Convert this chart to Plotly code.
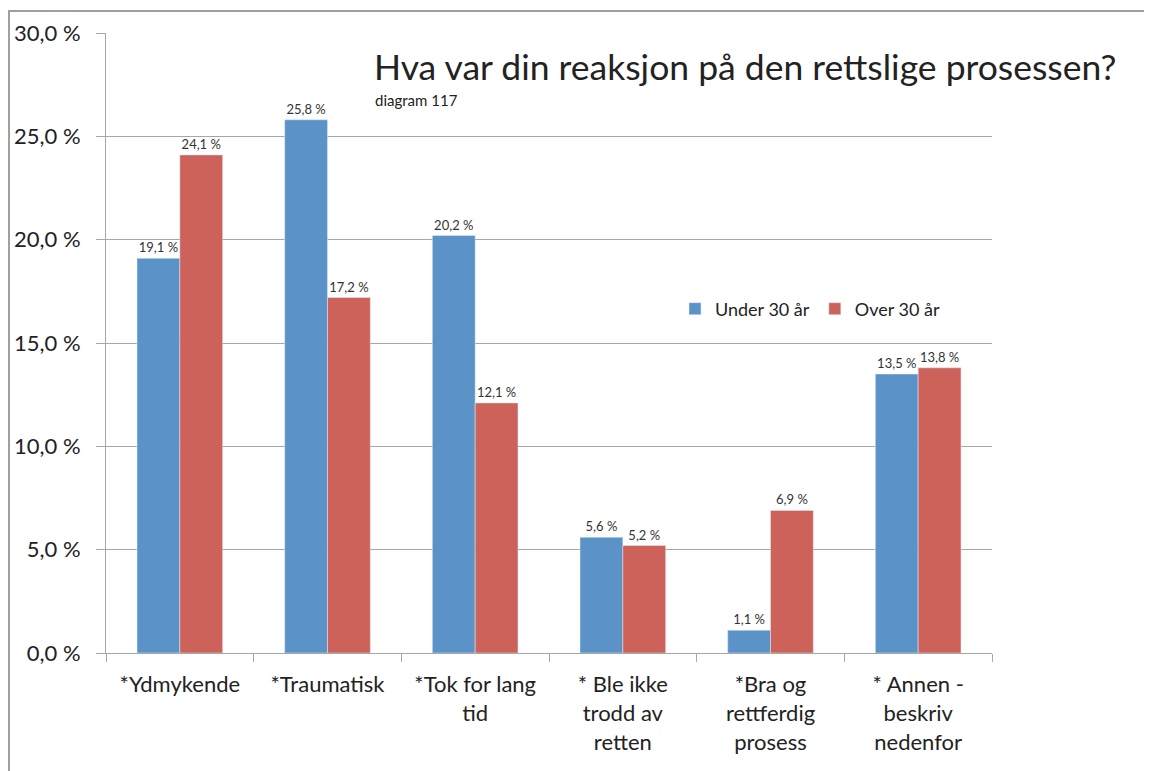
import plotly.graph_objects as go

# data
categories = ["*Ydmykende", "*Traumatisk", "*Tok for lang<br>tid",
              "* Ble ikke<br>trodd av<br>retten", "*Bra og<br>rettferdig<br>prosess",
              "* Annen -<br>beskriv<br>nedenfor"]
under_30 = [19.1, 25.8, 20.2, 5.6, 1.1, 13.5]
over_30 = [24.1, 17.2, 12.1, 5.2, 6.9, 13.8]
tick_vals = [0, 5, 10, 15, 20, 25, 30]
tick_text = ["0,0 %", "5,0 %", "10,0 %", "15,0 %", "20,0 %", "25,0 %", "30,0 %"]


def pct(v):
    return f"{v:.1f} %".replace(".", ",")


FONT = "Lato, 'Open Sans', sans-serif"
W, H = 1152, 771
OFF = 8  # page offset of the plot div
L, T = 98, 25
pw, ph = 886, 620
R, B = W - L - pw, H - T - ph


# positions below are given in screenshot pixels
def px_x(x):
    return (x - OFF - L) / pw


def px_y(y):
    return (T + ph + OFF - y) / ph


fig = go.Figure()
fig.add_trace(go.Bar(x=categories, y=under_30, name="Under 30 år",
                     marker_color="#5b92c7", text=[pct(v) for v in under_30],
                     textposition="outside", cliponaxis=False,
                     textfont=dict(size=13, color="#333333")))
fig.add_trace(go.Bar(x=categories, y=over_30, name="Over 30 år",
                     marker_color="#cc625a", text=[pct(v) for v in over_30],
                     textposition="outside", cliponaxis=False,
                     textfont=dict(size=13, color="#333333")))

fig.update_layout(
    width=W, height=H,
    margin=dict(l=L, r=R, t=T, b=B, autoexpand=False),
    paper_bgcolor="white", plot_bgcolor="white",
    font=dict(family=FONT, color="#222222"),
    barmode="group", bargap=0.42, bargroupgap=0,
    legend=dict(orientation="h", x=px_x(675), y=px_y(309), xanchor="left", yanchor="middle",
                font=dict(size=18), bgcolor="rgba(0,0,0,0)", itemwidth=30,
                traceorder="normal"),
)
fig.update_yaxes(range=[0, 30], tickvals=tick_vals, ticktext=tick_text,
                 showgrid=True, gridcolor="#a6a6a6", gridwidth=1,
                 showline=True, linecolor="#a6a6a6", linewidth=1,
                 ticks="outside", ticklen=9, tickcolor="#a6a6a6", ticklabelstandoff=11,
                 tickfont=dict(size=22, color="#222222"), zeroline=False, automargin=False)
fig.update_xaxes(showline=True, linecolor="#a6a6a6", linewidth=1,
                 ticks="outside", ticklen=8, tickcolor="#a6a6a6", tickson="boundaries",
                 ticklabelstandoff=12, automargin=False,
                 tickfont=dict(size=22, color="#222222"))

fig.add_annotation(xref="paper", yref="paper", x=px_x(372), y=px_y(67),
                   text="Hva var din reaksjon på den rettslige prosessen?",
                   showarrow=False, xanchor="left", yanchor="middle",
                   font=dict(size=35.5, color="#222222"))
fig.add_annotation(xref="paper", yref="paper", x=px_x(373), y=px_y(100),
                   text="diagram 117", showarrow=False, xanchor="left", yanchor="middle",
                   font=dict(size=15, color="#222222"))

# outer frame lines of the original screenshot
fig.add_shape(type="line", xref="paper", yref="paper",
              x0=px_x(8), x1=px_x(1160), y0=px_y(11), y1=px_y(11),
              line=dict(color="#a0a0a0", width=2))
fig.add_shape(type="line", xref="paper", yref="paper",
              x0=px_x(9), x1=px_x(9), y0=px_y(11), y1=px_y(780),
              line=dict(color="#a0a0a0", width=2))

fig.write_html("out.html")
